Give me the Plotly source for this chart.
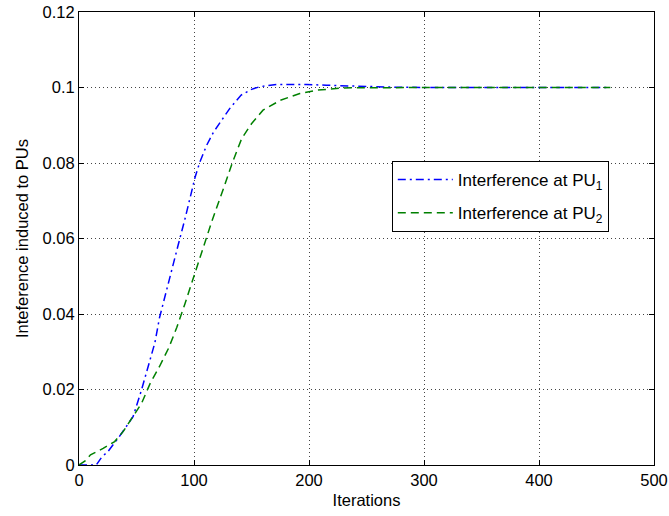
import plotly.graph_objects as go

# PU1 interference (blue, dash-dot)
pu1_x = [0, 15, 20, 25, 35, 41, 47, 54, 60, 66, 70, 74, 80, 86, 92, 98, 101, 105, 111, 117,
         123, 131, 141, 150, 157, 165, 172, 185, 198, 215, 240, 270, 300, 350, 400, 462]
pu1_y = [0, 0, 0.0022, 0.0035, 0.0075, 0.0102, 0.0128, 0.0195, 0.0257, 0.0324, 0.039, 0.0439,
         0.051, 0.058, 0.065, 0.0723, 0.0763, 0.0802, 0.0847, 0.0882, 0.0909, 0.0944, 0.098,
         0.0995, 0.1002, 0.1006, 0.1008, 0.1008, 0.1008, 0.1006, 0.1003, 0.1001, 0.1, 0.1, 0.1, 0.1]

# PU2 interference (green, dashed)
pu2_x = [0, 5, 10, 21, 31, 38.5, 46, 54.5, 62, 70, 78, 85, 92, 100, 108, 116, 125.5, 133,
         141.5, 150, 160, 175, 192, 207, 230, 260, 300, 400, 462]
pu2_y = [0, 0.001, 0.0027, 0.0044, 0.0062, 0.0089, 0.0124, 0.0164, 0.0217, 0.0261, 0.031,
         0.0364, 0.0426, 0.05, 0.057, 0.065, 0.0731, 0.0798, 0.0865, 0.0904, 0.094, 0.0966,
         0.0984, 0.0993, 0.0999, 0.1, 0.1, 0.1, 0.1]

x_ticks = [0, 100, 200, 300, 400, 500]
y_ticks = [0, 0.02, 0.04, 0.06, 0.08, 0.1, 0.12]
y_ticktext = ["0", "0.02", "0.04", "0.06", "0.08", "0.1", "0.12"]

FONT = "Liberation Sans, Arial, Helvetica, sans-serif"

fig = go.Figure()
fig.add_trace(go.Scatter(x=pu1_x, y=pu1_y, mode="lines", name="Interference at PU<sub>1</sub>",
                         legendgroup="pu1",
                         line=dict(color="#0000ff", width=1.5, dash="8px,4px,2px,4px")))
fig.add_trace(go.Scatter(x=pu2_x, y=pu2_y, mode="lines", name="Interference at PU<sub>2</sub>",
                         legendgroup="pu2",
                         line=dict(color="#008000", width=1.5, dash="8px,5px")))

axis_common = dict(
    showline=True, linecolor="black", linewidth=1, mirror="allticks",
    ticks="inside", ticklen=5, tickcolor="black",
    showgrid=True, gridcolor="#444444", gridwidth=1, griddash="1px,3px",
    zeroline=False, automargin=False, ticklabeloverflow="allow",
    tickfont=dict(size=16.5, color="black", family=FONT),
)

fig.update_xaxes(range=[0, 500], tickvals=x_ticks, ticktext=[str(v) for v in x_ticks],
                 title=dict(text="Iterations", font=dict(size=16.5, color="black", family=FONT), standoff=6),
                 **axis_common)
fig.update_yaxes(range=[0, 0.12], tickvals=y_ticks, ticktext=y_ticktext,
                 title=dict(text="Inteference induced to PUs", font=dict(size=16.5, color="black", family=FONT), standoff=9),
                 **axis_common)

fig.update_layout(
    width=669, height=516,
    margin=dict(l=79, r=15, t=12, b=51),
    paper_bgcolor="white", plot_bgcolor="white",
    font=dict(family=FONT, size=16.5, color="black"),
    showlegend=True,
    legend=dict(x=0.544, y=0.671, xanchor="left", yanchor="top",
                bgcolor="white", bordercolor="black", borderwidth=1,
                font=dict(size=17, color="black", family=FONT),
                itemwidth=55, tracegroupgap=8, traceorder="grouped"),
)

# remove the page's default 8px body margin so the figure sits at the window's corner
fig.write_html("out.html", config={"displayModeBar": False},
               post_script="document.body.style.margin='0';")
